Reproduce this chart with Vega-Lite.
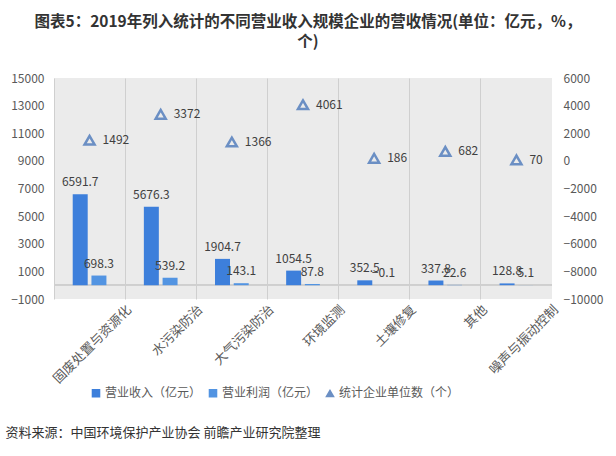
{
  "$schema": "https://vega.github.io/schema/vega-lite/v6.json",
  "width": 498,
  "height": 221,
  "autosize": {"type": "none"},
  "padding": {"left": 54, "top": 78, "right": 64, "bottom": 157},
  "background": "white",
  "config": {
    "font": "Noto Sans CJK SC",
    "view": {"stroke": null, "fill": "#ebebeb"},
    "axis": {"labelColor": "#595959", "labelFontSize": 12, "domain": false, "ticks": false}
  },
  "title": {
    "text": ["图表5：2019年列入统计的不同营业收入规模企业的营收情况(单位：亿元，%，", "个)"],
    "fontSize": 15.5,
    "fontWeight": "bold",
    "color": "#333333",
    "anchor": "middle",
    "frame": "group",
    "dx": 5,
    "offset": 22,
    "lineHeight": 20
  },
  "data": {
    "values": [
      {"cat": "固废处置与资源化", "营业收入（亿元）": 6591.7, "营业利润（亿元）": 698.3, "统计企业单位数（个）": 1492},
      {"cat": "水污染防治", "营业收入（亿元）": 5676.3, "营业利润（亿元）": 539.2, "统计企业单位数（个）": 3372},
      {"cat": "大气污染防治", "营业收入（亿元）": 1904.7, "营业利润（亿元）": 143.1, "统计企业单位数（个）": 1366},
      {"cat": "环境监测", "营业收入（亿元）": 1054.5, "营业利润（亿元）": 87.8, "统计企业单位数（个）": 4061},
      {"cat": "土壤修复", "营业收入（亿元）": 352.5, "营业利润（亿元）": -0.1, "统计企业单位数（个）": 186},
      {"cat": "其他", "营业收入（亿元）": 337.8, "营业利润（亿元）": 22.6, "统计企业单位数（个）": 682},
      {"cat": "噪声与振动控制", "营业收入（亿元）": 128.8, "营业利润（亿元）": 5.1, "统计企业单位数（个）": 70}
    ]
  },
  "encoding": {
    "x": {
      "field": "cat",
      "type": "nominal",
      "sort": null,
      "scale": {"paddingInner": 0, "paddingOuter": 0},
      "axis": {
        "labelAngle": -45,
        "labelFontSize": 13,
        "bandPosition": 0,
        "labelOffset": 35.5,
        "labelPadding": 4,
        "grid": true,
        "gridColor": "#cfcfcf",
        "title": "资料来源：中国环境保护产业协会 前瞻产业研究院整理",
        "titleFontSize": 13,
        "titleFontWeight": "normal",
        "titleColor": "#333333",
        "titleAnchor": "start",
        "titleAlign": "left",
        "titleBaseline": "middle",
        "titleX": -49,
        "titleY": 133
      }
    }
  },
  "layer": [
    {
      "transform": [{"fold": ["营业收入（亿元）", "营业利润（亿元）"], "as": ["series", "value"]}],
      "encoding": {
        "y": {
          "field": "value",
          "type": "quantitative",
          "scale": {"domain": [-1000, 15000], "nice": false, "zero": false},
          "axis": {"values": [-1000, 1000, 3000, 5000, 7000, 9000, 11000, 13000, 15000], "format": "d", "grid": false, "title": null, "labelPadding": 10}
        },
        "xOffset": {
          "field": "series",
          "type": "nominal",
          "sort": ["营业收入（亿元）", "营业利润（亿元）"],
          "scale": {"paddingInner": 0.2, "paddingOuter": 1.0}
        }
      },
      "layer": [
        {
          "mark": {"type": "rule", "color": "#cfcfcf", "strokeWidth": 1},
          "encoding": {"y": {"datum": 0}, "x": null, "xOffset": null}
        },
        {
          "mark": {"type": "bar"},
          "encoding": {
            "color": {
              "field": "series",
              "type": "nominal",
              "scale": {
                "domain": ["营业收入（亿元）", "营业利润（亿元）", "统计企业单位数（个）"],
                "range": ["#3d7fdb", "#5294e2", "#6b8fc4"]
              },
              "legend": {
                "orient": "none",
                "legendX": 36,
                "legendY": 309,
                "direction": "horizontal",
                "title": null,
                "labelFontSize": 12,
                "labelColor": "#595959",
                "symbolSize": 50,
                "columnPadding": 4,
                "labelOffset": 3
              }
            }
          }
        },
        {
          "mark": {"type": "text", "baseline": "bottom", "dy": -5, "fontSize": 12, "color": "#404040"},
          "encoding": {"text": {"field": "value", "type": "quantitative", "format": ".1f"}}
        }
      ]
    },
    {
      "transform": [{"fold": ["统计企业单位数（个）"], "as": ["series", "count"]}],
      "encoding": {
        "y": {
          "field": "count",
          "type": "quantitative",
          "scale": {"domain": [-10000, 6000], "nice": false, "zero": false},
          "axis": {"orient": "right", "values": [-10000, -8000, -6000, -4000, -2000, 0, 2000, 4000, 6000], "format": "d", "grid": false, "title": null, "labelPadding": 11}
        }
      },
      "layer": [
        {
          "mark": {"type": "point", "filled": false, "strokeWidth": 2.5, "size": 100, "opacity": 1},
          "encoding": {
            "color": {"field": "series", "type": "nominal"},
            "shape": {
              "field": "series",
              "type": "nominal",
              "scale": {
                "domain": ["营业收入（亿元）", "营业利润（亿元）", "统计企业单位数（个）"],
                "range": ["square", "square", "triangle-up"]
              },
              "legend": {
                "orient": "none",
                "legendX": 36,
                "legendY": 309,
                "direction": "horizontal",
                "title": null,
                "labelFontSize": 12,
                "labelColor": "#595959",
                "symbolSize": 50,
                "columnPadding": 4,
                "labelOffset": 3
              }
            }
          }
        },
        {
          "mark": {"type": "text", "align": "left", "baseline": "middle", "dx": 13, "fontSize": 12, "color": "#404040"},
          "encoding": {"text": {"field": "count", "type": "quantitative"}}
        }
      ]
    }
  ],
  "resolve": {"scale": {"y": "independent"}}
}
